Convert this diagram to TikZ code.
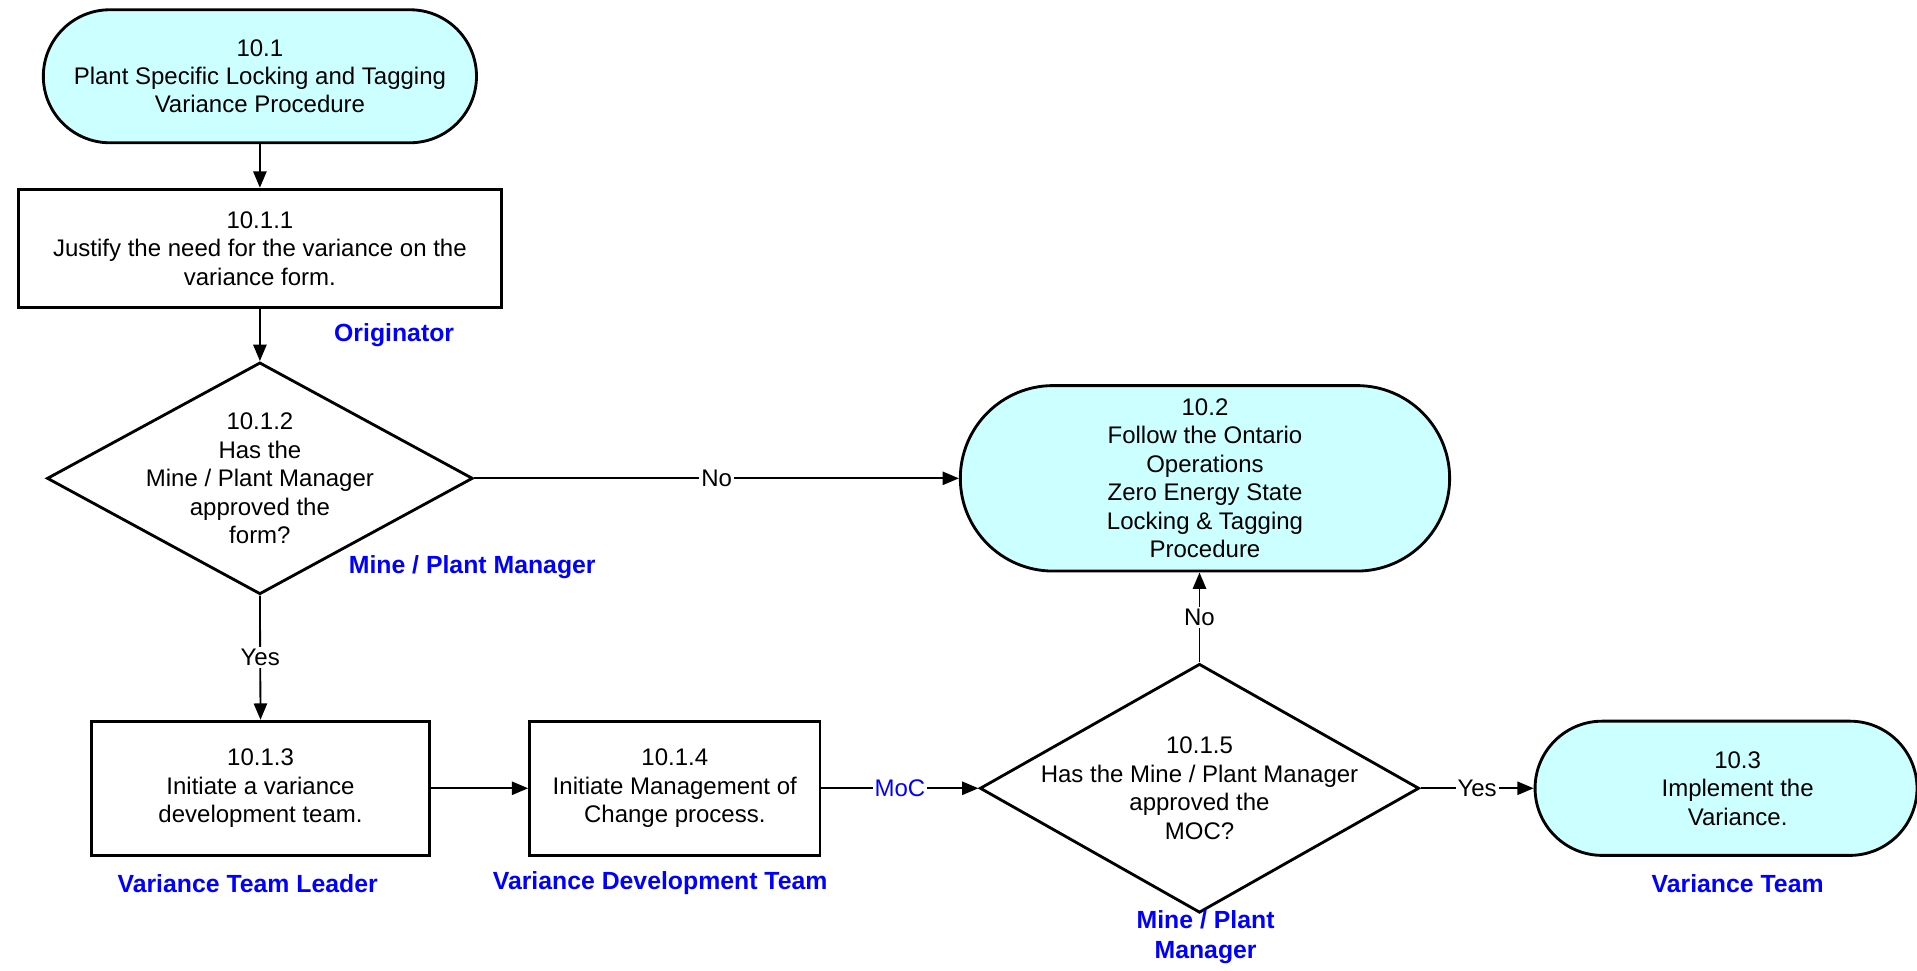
\documentclass[tikz,border=0pt]{standalone}
\usepackage{fontspec}
\setmainfont{Liberation Sans}
\usetikzlibrary{shapes.geometric,arrows.meta}
\definecolor{termcyan}{RGB}{204,255,255}
\definecolor{roleblue}{RGB}{0,0,255}

\begin{document}
\begin{tikzpicture}[x=0.6pt,y=-0.6pt,
 font=\fontsize{11.8}{14}\selectfont,
 term/.style={draw,line width=1.4pt,fill=termcyan,rectangle,align=center,inner sep=2pt},
 proc/.style={draw,line width=1.4pt,fill=white,rectangle,align=center},
 dec/.style={draw,line width=1.4pt,diamond,inner sep=0pt},
 txt/.style={align=center,inner sep=0pt},
 who/.style={text=roleblue,font=\fontsize{12.2}{14.5}\selectfont\bfseries,align=center},
 flow/.style={line width=0.9pt,-{Triangle[length=8pt,width=6.5pt]}},
 tag/.style={fill=white,inner sep=1pt}]
 \useasboundingbox (0,0) rectangle (1571,795);
 \node[term,minimum width=213pt,minimum height=65.4pt,rounded corners=32.7pt] (t101) at (213,62.5) {10.1\\Plant Specific Locking and Tagging\\Variance Procedure};
 \node[proc,minimum width=237.6pt,minimum height=58.2pt] (b1011) at (213,203.5) {10.1.1\\Justify the need for the variance on the\\variance form.};
 \node[dec,minimum width=209.4pt,minimum height=114pt] (d1012) at (213,392) {};
 \node[txt] (d1012t) at (d1012) {10.1.2\\Has the\\Mine / Plant Manager\\approved the\\form?};
 \node[term,minimum width=240.6pt,minimum height=91.2pt,rounded corners=45.6pt] (t102) at (987.5,392) {10.2\\Follow the Ontario\\Operations\\Zero Energy State\\Locking \& Tagging\\Procedure};
 \node[proc,minimum width=166.2pt,minimum height=66pt] (b1013) at (213.5,646) {10.1.3\\Initiate a variance\\development team.};
 \node[proc,minimum width=142.8pt,minimum height=66pt] (b1014) at (553,646) {10.1.4\\Initiate Management of\\Change process.};
 \node[dec,minimum width=216pt,minimum height=122.4pt] (d1015) at (983,646) {};
 \node[txt] (d1015t) at (d1015) {10.1.5\\Has the Mine / Plant Manager\\approved the\\MOC?};
 \node[term,minimum width=187.8pt,minimum height=66pt,rounded corners=33pt] (t103) at (1414.5,646) {};
 \node[txt] (t103t) at (1424,646) {10.3\\Implement the\\Variance.};

 \node[who] (r1) at (323,275) {Originator};
 \node[who] (r2) at (387,465) {Mine / Plant Manager};
 \node[who] (r3) at (203,724) {Variance Team Leader};
 \node[who] (r4) at (541,724) {Variance Development Team};
 \node[who] (r5) at (988,768) {Mine / Plant\\Manager};
 \node[who] (r6) at (1424,724) {Variance Team};

 \draw[flow] (t101) -- (b1011);
 \draw[flow] (b1011) -- (d1012);
 \draw[flow] (d1012.east) -- node[tag]{No} (t102.west);
 \draw[flow] (d1012.south) -- node[tag]{Yes} (b1013.north);
 \draw[flow] (b1013) -- (b1014);
 \draw[flow] (b1014.east) -- node[tag,text=roleblue]{MoC} (d1015.west);
 \draw[flow] (d1015.north) -- node[tag]{No} (d1015.north |- t102.south);
 \draw[flow] (d1015.east) -- node[tag]{Yes} (t103.west);
\end{tikzpicture}
\end{document}
